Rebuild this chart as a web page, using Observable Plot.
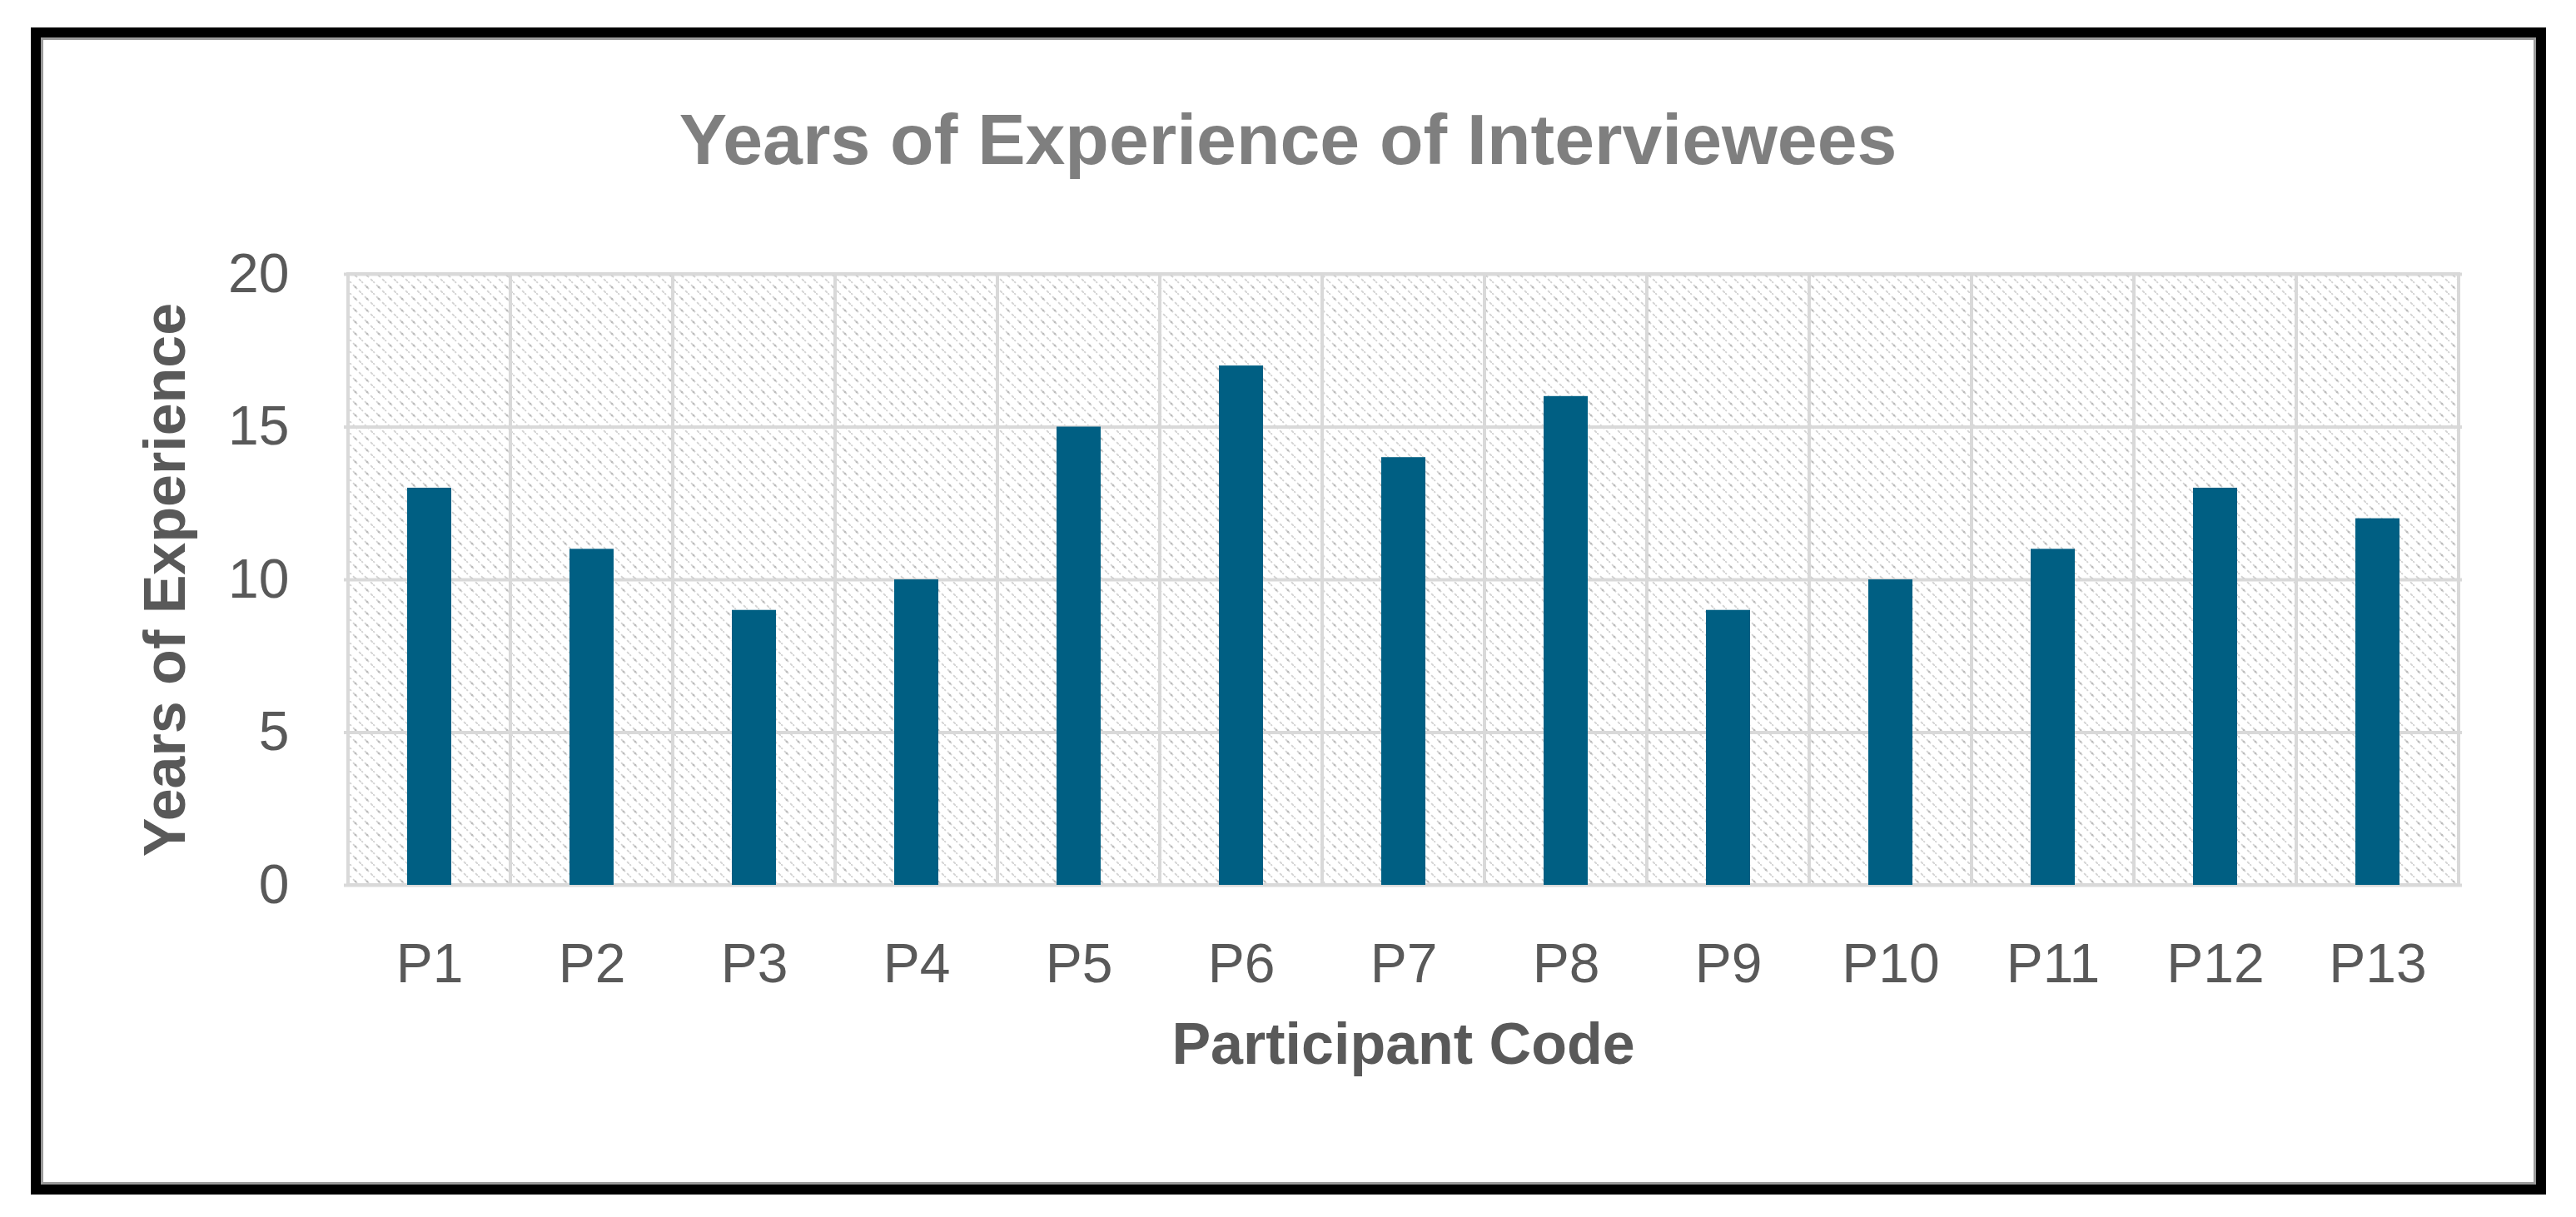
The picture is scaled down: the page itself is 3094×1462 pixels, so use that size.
<!DOCTYPE html>
<html>
<head>
<meta charset="utf-8">
<script src="https://cdn.jsdelivr.net/npm/d3@7"></script>
<script src="https://cdn.jsdelivr.net/npm/@observablehq/plot@0.6"></script>
<style>
  html, body { margin: 0; padding: 0; background: #ffffff; }
  body { width: 3094px; height: 1462px; position: relative; overflow: hidden; font-family: "Liberation Sans", Arial, sans-serif; }
  #frame { position: absolute; left: 37px; top: 33px; width: 3021px; height: 1402px; box-sizing: border-box; border: 12px solid #000; box-shadow: inset 0 0 0 3px #9a9a9a; }
  #title { position: absolute; left: 0; width: 3094px; top: 124px; text-align: center; font-size: 86px; line-height: 1; font-weight: bold; color: #7f7f7f; white-space: nowrap; }
  #chart { position: absolute; left: 0; top: 240px; }
</style>
</head>
<body>
<div id="frame"></div>
<div id="title">Years of Experience of Interviewees</div>
<div id="chart"></div>
<script>
// Data
const codes = ["P1","P2","P3","P4","P5","P6","P7","P8","P9","P10","P11","P12","P13"];
const years = [13, 11, 9, 10, 15, 17, 14, 16, 9, 10, 11, 13, 12];
const yTicks = [0, 5, 10, 15, 20];
const xLabel = "Participant Code";
const yLabel = "Years of Experience";

const data = codes.map((c, i) => ({code: c, years: years[i]}));

const plot = Plot.plot({
  width: 3094,
  height: 1180,
  marginTop: 89,
  marginBottom: 357,
  marginLeft: 413,
  marginRight: 137,
  style: {color: "#595959", fontFamily: "'Liberation Sans', Arial, sans-serif", background: "transparent", overflow: "visible"},
  x: {type: "band", domain: codes, padding: 0, label: null},
  y: {domain: [0, 20], label: null},
  marks: [
    Plot.cell(codes, {x: d => d, fill: "url(#hatch)", stroke: "#d9d9d9", strokeWidth: 4}),
    Plot.ruleY(yTicks, {stroke: "#d9d9d9", strokeWidth: 4}),
    Plot.barY(data, {x: "code", y: "years", fill: "#005f83", insetLeft: 71, insetRight: 71}),
    Plot.axisY({ticks: yTicks, tickSize: 0, tickPadding: 66, fontSize: 66, label: null}),
    Plot.axisX({tickSize: 0, tickPadding: 70, fontSize: 66, label: null}),
    Plot.text([xLabel], {frameAnchor: "bottom", textAnchor: "middle", dy: 214, fontSize: 70, fontWeight: "bold", fill: "#595959"}),
    Plot.text([yLabel], {frameAnchor: "left", textAnchor: "middle", dx: -214, rotate: -90, fontSize: 70, fontWeight: "bold", fill: "#595959"})
  ]
});

// Hatch pattern definition for the plot background cells
const ns = "http://www.w3.org/2000/svg";
const defs = document.createElementNS(ns, "defs");
defs.innerHTML = `
  <pattern id="hatch" patternUnits="userSpaceOnUse" width="14" height="14">
    <rect width="14" height="14" fill="#ffffff"></rect>
    <path d="M-3,-3L17,17" stroke="#d2d2d2" stroke-width="1.8" stroke-dasharray="7 3"></path>
    <circle cx="7" cy="7" r="1.3" fill="#bcbcbc"></circle>
  </pattern>`;
plot.insertBefore(defs, plot.firstChild);

document.getElementById("chart").appendChild(plot);
</script>
</body>
</html>
